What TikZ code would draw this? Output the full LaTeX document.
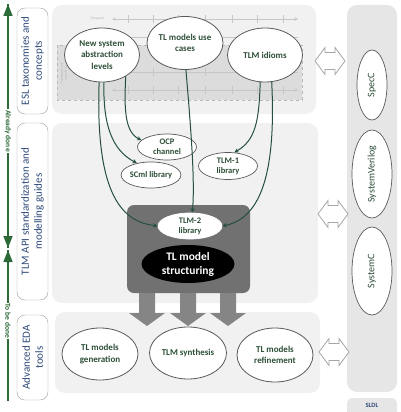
\documentclass[tikz,border=0pt]{standalone}
\usepackage{fontspec}
\setmainfont{Carlito}
\usepackage{tikz}
\usetikzlibrary{positioning, arrows.meta, shapes.geometric}
\definecolor{PanelGray}{HTML}{F1F1F1}
\definecolor{ChartGray}{HTML}{DCDCDC}
\definecolor{BoxDark}{HTML}{717171}
\definecolor{FlowGray}{HTML}{858585}
\definecolor{EllBorder}{HTML}{5A5A5A}
\definecolor{TextGreen}{HTML}{2D4F37}
\definecolor{TextNavy}{HTML}{2F4A7A}
\definecolor{LinkGreen}{HTML}{24503C}
\definecolor{DoneGreen}{HTML}{2C6A38}

\begin{document}
\begin{tikzpicture}[
                x=1pt, y=-1pt,
                >=stealth,
                panel/.style={draw=none, fill=PanelGray, rounded corners=10pt},
                sidebox/.style={rectangle, draw=gray!75, fill=white, rounded corners=8pt, rotate=90, minimum height=31pt, inner sep=1pt, align=center, text=TextNavy, font=\fontsize{11}{13}\selectfont},
                idea/.style={ellipse, draw=EllBorder, fill=white, line width=0.8pt, inner sep=0pt, minimum width=75pt, minimum height=54pt, align=center, text=TextGreen, font=\fontsize{9}{11.5}\selectfont\bfseries},
                lib/.style={ellipse, draw=EllBorder, fill=white, line width=0.7pt, inner sep=0pt, minimum width=59pt, minimum height=26pt, align=center, text=TextGreen, font=\fontsize{8.5}{10}\selectfont\bfseries},
                lang/.style={ellipse, draw=EllBorder, fill=white, line width=0.7pt, inner sep=0pt, rotate=90, minimum width=88pt, minimum height=40pt, text=TextGreen, font=\fontsize{10}{12}\selectfont},
                link/.style={->, LinkGreen, line width=1pt},
                done/.style={rotate=-90, fill=white, inner sep=1pt, text=DoneGreen, font=\fontsize{7.5}{8}\selectfont\bfseries},
                doneline/.style={DoneGreen, line width=1.4pt},
                swap/.style={draw=gray!70, fill=white, line width=0.8pt},
                flow/.style={fill=FlowGray, draw=none},
                axis/.style={gray!45, line width=0.6pt}
            ]
                \useasboundingbox (0,0) rectangle (400,412);

                % Panels
                \fill[panel] (52,5) rectangle (316,114);
                \fill[panel] (52,123) rectangle (318,303);
                \fill[panel] (55,312) rectangle (320,393);
                \fill[panel, fill=PanelGray!90!gray] (347,5) rectangle (397,392);
                \fill[panel, rounded corners=5pt, fill=PanelGray!90!gray] (347,398) rectangle (397,420);
                \node[font=\fontsize{6.5}{7}\selectfont\bfseries, text=TextNavy] (sldl) at (372,405) {SLDL};

                % Taxonomy chart behind the top row
                \draw[dashed, gray!55, fill=ChartGray] (57,45) rectangle (302,100);
                \draw[axis, <->] (112,19) -- (298,19);
                \draw[axis] (110,37) -- (298,37);
                \draw[axis] (110,72) -- (298,72);
                \draw[axis, <->] (112,90) -- (298,90);
                \draw[axis] (128,15) -- (128,23) (153,15) -- (153,23) (178,15) -- (178,23) (205,15) -- (205,23)
                    (232,15) -- (232,23) (257,15) -- (257,23) (283,15) -- (283,23);
                \draw[axis] (128,86) -- (128,94) (153,86) -- (153,94) (178,86) -- (178,94) (205,86) -- (205,94)
                    (232,86) -- (232,94) (257,86) -- (257,94) (283,86) -- (283,94);
                \draw[axis] (153,68) -- (153,76) (205,68) -- (205,76) (257,68) -- (257,76);
                \node[text=gray!60, font=\fontsize{3.5}{4}\selectfont] (temporal) at (97,19) {Temporal};
                \node[text=gray!60, rotate=90, align=center, font=\fontsize{3.5}{4}\selectfont] (taxaxis) at (64,73) {Taxonomy axis\\specific to};

                % Left column
                \node[sidebox, minimum width=106pt] (esl) at (32.5,61) {ESL taxonomies and\\concepts};
                \node[sidebox, minimum width=177pt] (tlmapi) at (32.5,211.5) {TLM API standardization and\\modelling guides};
                \node[sidebox, minimum width=85pt] (eda) at (32.5,357.5) {Advanced EDA\\tools};

                \coordinate (topend) at (8,4);
                \coordinate (midup) at (8,248);
                \coordinate (midlow) at (8,250);
                \coordinate (botend) at (8,401);
                \draw[doneline] (topend) -- (midup) (midlow) -- (botend);
                \draw[doneline, -{Triangle[length=12pt, width=9pt]}] (8,30) -- (topend);
                \draw[doneline, -{Triangle[length=12pt, width=9pt]}] (8,220) -- (midup);
                \draw[doneline, -{Triangle[length=12pt, width=9pt]}] (8,280) -- (midlow);
                \node[done] (already) at (8,131) {Already done};
                \node[done] (tobedone) at (8,321) {To be done};

                % Nodes
                \node[idea] (levels) at (102,55) {New system\\abstraction\\levels};
                \node[idea, minimum width=76pt, minimum height=53pt] (cases) at (185,43) {TL models use\\cases};
                \node[idea] (idioms) at (265,55) {TLM idioms};

                \node[lib] (ocp) at (167,147) {OCP\\channel};
                \node[lib, minimum width=58pt] (scml) at (151,175) {SCml library};
                \node[lib, minimum height=27pt] (tlmone) at (228,166) {TLM-1\\library};

                \fill[BoxDark, rounded corners=7pt] (127,205) rectangle (250,293);
                \node[lib, minimum width=64pt, draw=white] (tlmtwo) at (190,226) {TLM-2\\library};
                \node[ellipse, fill=black, inner sep=0pt, minimum width=93pt, minimum height=38pt, align=center, text=white,
                    font=\fontsize{11.5}{14}\selectfont\bfseries] (structuring) at (188,264) {TL model\\structuring};

                % Flow into the tools
                \fill[flow] (139,293) -- ++(0,20) -- ++(-10,0) -- ++(18,13) -- ++(18,-13) -- ++(-10,0) -- ++(0,-20) -- cycle;
                \fill[flow] (180,293) -- ++(0,20) -- ++(-10,0) -- ++(18,13) -- ++(18,-13) -- ++(-10,0) -- ++(0,-20) -- cycle;
                \fill[flow] (220,293) -- ++(0,20) -- ++(-10,0) -- ++(18,13) -- ++(18,-13) -- ++(-10,0) -- ++(0,-20) -- cycle;

                \node[idea, minimum width=76pt, minimum height=52pt] (generation) at (100,354) {TL models\\generation};
                \node[idea, minimum width=77pt, minimum height=52pt] (synthesis) at (188,353) {TLM synthesis};
                \node[idea, minimum width=76pt, minimum height=54pt] (refinement) at (275,355) {TL models\\refinement};

                % Languages
                \node[lang, minimum width=70pt, minimum height=30pt] (specc) at (372,85) {SpecC};
                \node[lang] (sysverilog) at (372,174) {SystemVerilog};
                \node[lang] (systemc) at (372,271) {SystemC};

                % Exchange arrows
                \draw[swap] (315,61) -- ++(10,-13.5) -- ++(0,5) -- ++(10,0) -- ++(0,-5) -- ++(10,13.5)
                    -- ++(-10,13.5) -- ++(0,-5) -- ++(-10,0) -- ++(0,5) -- cycle;
                \draw[swap] (318,214) -- ++(10,-13.5) -- ++(0,5) -- ++(10,0) -- ++(0,-5) -- ++(10,13.5)
                    -- ++(-10,13.5) -- ++(0,-5) -- ++(-10,0) -- ++(0,5) -- cycle;
                \draw[swap] (319,352) -- ++(10,-13.5) -- ++(0,5) -- ++(10,0) -- ++(0,-5) -- ++(10,13.5)
                    -- ++(-10,13.5) -- ++(0,-5) -- ++(-10,0) -- ++(0,5) -- cycle;

                % Path connections
                \draw[link] (levels.-42) .. controls (124,110) and (125,132) .. (ocp.165);
                \draw[link] (levels.-86) .. controls (103,125) and (112,150) .. (scml.140);
                \draw[link] (levels.-96) .. controls (95,200) and (125,222) .. (tlmtwo.west);
                \draw[link] (cases.-88) .. controls (191,130) and (195,180) .. (tlmtwo.80);
                \draw[link] (idioms.-100) .. controls (259,120) and (256,140) .. (tlmone.65);
                \draw[link] (idioms.-76) .. controls (276,170) and (262,218) .. (tlmtwo.east);
            \end{tikzpicture}
\end{document}
